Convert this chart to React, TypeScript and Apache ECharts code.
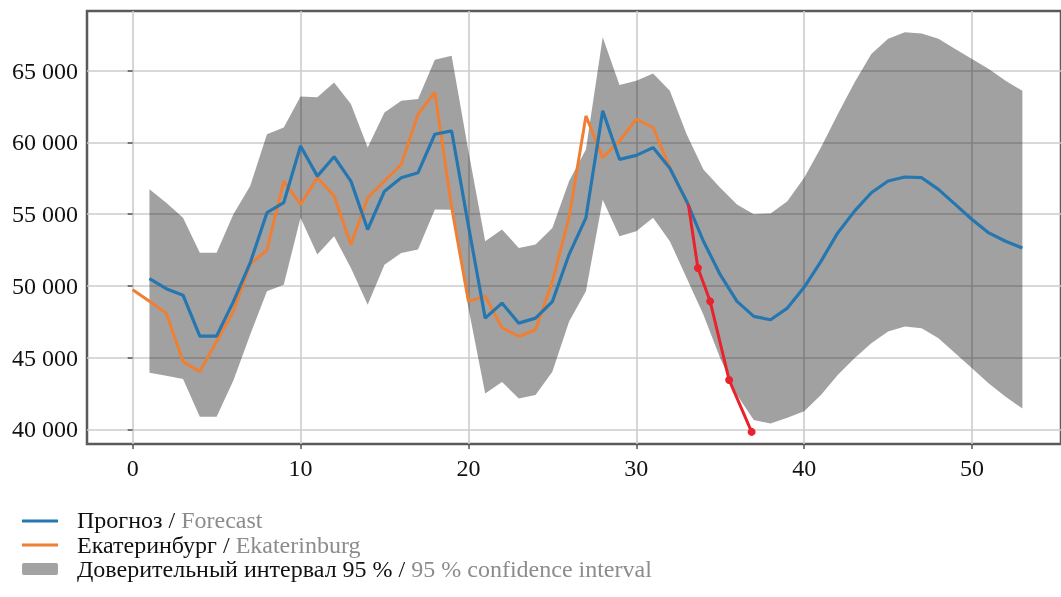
import React, { useEffect, useRef } from 'react';
import * as echarts from 'echarts';

// Weeks start: Ekaterinburg actual from week 0, forecast & CI from week 1
const actualStart = 0;
const forecastStart = 1;

const xTicks = [0, 10, 20, 30, 40, 50];
const yTicks = [40000, 45000, 50000, 55000, 60000, 65000];

// Екатеринбург / Ekaterinburg (weeks 0..33)
const ekaterinburg = [
  49730, 48920, 48100, 44720, 44020, 46120, 48220, 51500, 52500, 57300,
  55680, 57540, 56260, 52880, 56140, 57310, 58470, 61970, 63500, 55500,
  48920, 49270, 47100, 46470, 46940, 50300, 54800, 61850, 58940, 60100,
  61620, 61040, 58240, 55800,
];

// Прогноз / Forecast (weeks 1..53)
const forecast = [
  50500, 49800, 49350, 46500, 46500, 48900, 51600, 55100, 55800, 59750,
  57650, 59000, 57300, 53930, 56600, 57540, 57890, 60570, 60800, 54200,
  47750, 48800, 47400, 47750, 48900, 52200, 54740, 62200, 58820, 59100,
  59640, 58200, 55900, 53110, 50780, 48920, 47870, 47640, 48450, 49900,
  51710, 53690, 55210, 56490, 57310, 57590, 57540, 56730, 55680, 54630,
  53690, 53110, 52640,
];

// 95 % confidence interval, upper bound (weeks 1..53)
const ciUpper = [
  56730, 55790, 54740, 52300, 52300, 55000, 56960, 60570, 61040, 63200,
  63150, 64180, 62670, 59640, 62090, 62900, 63020, 65760, 66050, 59410,
  53110, 53930, 52640, 52880, 54040, 57310, 59500, 67330, 64000, 64300,
  64800, 63600, 60570, 58120, 56840, 55680, 55000, 55050, 55900, 57540,
  59640, 61970, 64180, 66160, 67220, 67680, 67600, 67220, 66520, 65820,
  65120, 64300, 63600,
];

// 95 % confidence interval, lower bound (weeks 1..53)
const ciLower = [
  43950, 43730, 43500, 40870, 40870, 43400, 46600, 49620, 50080, 54740,
  52180, 53460, 51240, 48680, 51480, 52290, 52530, 55330, 55300, 48450,
  42500, 43300, 42150, 42390, 44020, 47520, 49620, 56000, 53460, 53810,
  54740, 53110, 50550, 47980, 44950, 42390, 40640, 40400, 40800, 41250,
  42390, 43790, 44950, 46000, 46820, 47170, 47050, 46350, 45300, 44250,
  43200, 42270, 41450,
];

// Red actual points (latest observations)
const redX = [33.1, 33.67, 34.4, 35.53, 36.87];
const redY = [55700, 51240, 48920, 43440, 39820];

const FONT = '"Liberation Serif", "Times New Roman", serif';
const BLUE = '#2676b0';
const ORANGE = '#ee7f33';
const RED = '#e8232d';
const BAND = 'rgba(0,0,0,0.37)';

const richStyles = {
  a: { fontSize: 24, lineHeight: 24, fontFamily: FONT, fill: '#111', color: '#111' },
  b: { fontSize: 24, lineHeight: 24, fontFamily: FONT, fill: '#8c8c8c', color: '#8c8c8c' },
};

export default function App() {
  const ref = useRef<HTMLDivElement>(null);

  useEffect(() => {
    const chart = echarts.init(ref.current!, null, { renderer: 'svg' });

    const ciData = ciUpper.map((u, i) => [forecastStart + i, ciLower[i], u]);
    const forecastData = forecast.map((v, i) => [forecastStart + i, v]);
    const ekbData = ekaterinburg.map((v, i) => [actualStart + i, v]);
    const redData = redX.map((x, i) =>
      i === 0 ? { value: [x, redY[i]], symbol: 'none' } : { value: [x, redY[i]] }
    );

    chart.setOption({
      animation: false,
      grid: {
        left: 87,
        right: -3,
        top: 11,
        bottom: 153,
        show: true,
        borderColor: '#5a5a5a',
        borderWidth: 2.5,
        backgroundColor: 'transparent',
      },
      xAxis: {
        type: 'value',
        min: -2.72,
        max: 55.3,
        axisLine: { show: false },
        axisTick: {
          show: true,
          length: 5,
          customValues: xTicks,
          lineStyle: { color: '#555', width: 1.5 },
        },
        axisLabel: {
          customValues: xTicks,
          fontSize: 24,
          fontFamily: FONT,
          color: '#111',
          margin: 12,
        },
        splitLine: { show: true, lineStyle: { color: '#cccccc', width: 1.6 } },
      },
      yAxis: {
        type: 'value',
        min: 38975,
        max: 69162,
        axisLine: { show: false },
        axisTick: {
          show: true,
          length: 5,
          customValues: yTicks,
          lineStyle: { color: '#555', width: 1.5 },
        },
        axisLabel: {
          customValues: yTicks,
          fontSize: 24,
          fontFamily: FONT,
          color: '#111',
          margin: 9,
          formatter: (v: number) => `${Math.round(v / 1000)} 000`,
        },
        splitLine: { show: true, lineStyle: { color: '#cccccc', width: 1.6 } },
      },
      series: [
        {
          name: 'Доверительный интервал 95 %',
          type: 'custom',
          data: ciData,
          encode: { x: 0, y: [1, 2] },
          silent: true,
          clip: true,
          z: 1,
          renderItem: (params: any, api: any) => {
            if (params.dataIndex !== 0) return null;
            const top = ciData.map((d) => api.coord([d[0], d[2]]));
            const bottom = ciData
              .slice()
              .reverse()
              .map((d) => api.coord([d[0], d[1]]));
            return {
              type: 'polygon',
              shape: { points: top.concat(bottom) },
              style: { fill: BAND },
            };
          },
        },
        {
          name: 'Екатеринбург',
          type: 'line',
          data: ekbData,
          symbol: 'none',
          lineStyle: { color: ORANGE, width: 3 },
          z: 3,
        },
        {
          name: 'Прогноз',
          type: 'line',
          data: forecastData,
          symbol: 'none',
          lineStyle: { color: BLUE, width: 3.2 },
          z: 4,
        },
        {
          name: 'Факт',
          type: 'line',
          data: redData,
          symbol: 'circle',
          symbolSize: 8,
          itemStyle: { color: RED },
          lineStyle: { color: RED, width: 3 },
          z: 5,
        },
      ],
      graphic: [
        {
          type: 'line',
          shape: { x1: 22, y1: 521, x2: 58, y2: 521 },
          style: { stroke: BLUE, lineWidth: 3 },
        },
        {
          type: 'text',
          x: 77,
          y: 520,
          style: {
            text: '{a|Прогноз / }{b|Forecast}',
            verticalAlign: 'middle',
            align: 'left',
            rich: richStyles,
          },
        },
        {
          type: 'line',
          shape: { x1: 22, y1: 545, x2: 58, y2: 545 },
          style: { stroke: ORANGE, lineWidth: 3 },
        },
        {
          type: 'text',
          x: 77,
          y: 544.5,
          style: {
            text: '{a|Екатеринбург / }{b|Ekaterinburg}',
            verticalAlign: 'middle',
            align: 'left',
            rich: richStyles,
          },
        },
        {
          type: 'rect',
          shape: { x: 22, y: 563, width: 36, height: 12, r: 2 },
          style: { fill: '#a3a3a3' },
        },
        {
          type: 'text',
          x: 77,
          y: 569,
          style: {
            text: '{a|Доверительный интервал 95 % / }{b|95 % confidence interval}',
            verticalAlign: 'middle',
            align: 'left',
            rich: richStyles,
          },
        },
      ],
    });

    return () => chart.dispose();
  }, []);

  return (
    <div
      ref={ref}
      style={{ position: 'fixed', left: 0, top: 0, width: 1061, height: 597 }}
    />
  );
}
